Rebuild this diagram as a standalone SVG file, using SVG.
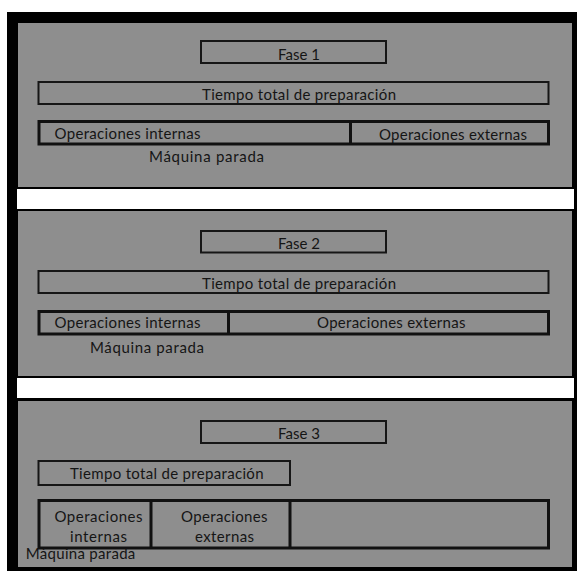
<svg xmlns="http://www.w3.org/2000/svg" width="577" height="571" viewBox="0 0 577 571">
<style>
.panel{fill:#8e8e8e}
.band{fill:#ffffff}
.box{fill:none;stroke:#161616;stroke-width:2}
.row{fill:none;stroke:#111111;stroke-width:3}
text{font-family:"Lato","Open Sans","Liberation Sans",sans-serif;font-size:15px;fill:#151515}
</style>
<rect x="0" y="0" width="577" height="571" fill="#ffffff"/>
<rect x="7" y="12" width="570" height="559" fill="#000000"/>
<rect class="panel" x="18" y="23" width="554" height="164"/>
<rect class="band" x="17" y="189" width="557" height="20"/>
<rect class="panel" x="18" y="211" width="554" height="165"/>
<rect class="band" x="17" y="378" width="557" height="20"/>
<rect class="panel" x="18" y="401" width="554" height="166"/>

<g id="fase1">
<rect class="box" x="201" y="41" width="185" height="22"/>
<text x="278" y="59.5" textLength="42" lengthAdjust="spacing">Fase  1</text>
</g>
<g id="tiempo1">
<rect class="box" x="38.5" y="82" width="510" height="22"/>
<text x="202" y="100" textLength="194" lengthAdjust="spacing">Tiempo total de preparación</text>
</g>
<g id="ops1">
<rect class="row" x="39" y="121.5" width="509.5" height="22.5"/>
<line class="row" x1="350.5" y1="121.5" x2="350.5" y2="144"/>
<text x="54.5" y="138.5" textLength="146" lengthAdjust="spacing">Operaciones  internas</text>
<text x="379" y="140" textLength="148" lengthAdjust="spacing">Operaciones externas</text>
</g>
<g id="maquina1">
<text x="149" y="161.5" textLength="115" lengthAdjust="spacing">Máquina parada</text>
</g>

<g id="fase2">
<rect class="box" x="201" y="231" width="185" height="21.5"/>
<text x="278" y="249" textLength="42" lengthAdjust="spacing">Fase  2</text>
</g>
<g id="tiempo2">
<rect class="box" x="38.5" y="271" width="510" height="22"/>
<text x="202" y="289" textLength="194" lengthAdjust="spacing">Tiempo total de preparación</text>
</g>
<g id="ops2">
<rect class="row" x="39" y="311.5" width="509.5" height="22.5"/>
<line class="row" x1="228.5" y1="311.5" x2="228.5" y2="334"/>
<text x="54.5" y="328" textLength="146" lengthAdjust="spacing">Operaciones  internas</text>
<text x="317" y="328" textLength="148.5" lengthAdjust="spacing">Operaciones externas</text>
</g>
<g id="maquina2">
<text x="90" y="352.5" textLength="114" lengthAdjust="spacing">Máquina parada</text>
</g>

<g id="fase3">
<rect class="box" x="201" y="421" width="185" height="22"/>
<text x="278" y="438.5" textLength="42" lengthAdjust="spacing">Fase  3</text>
</g>
<g id="tiempo3">
<rect class="box" x="38.5" y="461" width="251.5" height="24"/>
<text x="70" y="478.5" textLength="193.5" lengthAdjust="spacing">Tiempo total de preparación</text>
</g>
<g id="ops3">
<rect class="row" x="39" y="500.5" width="509.5" height="47.5"/>
<line class="row" x1="151" y1="500.5" x2="151" y2="548"/>
<line class="row" x1="290" y1="500.5" x2="290" y2="548"/>
<text x="54.5" y="521.7" textLength="88" lengthAdjust="spacing">Operaciones</text>
<text x="70" y="541.7" textLength="57" lengthAdjust="spacing">internas</text>
<text x="181" y="521.7" textLength="86.5" lengthAdjust="spacing">Operaciones</text>
<text x="195" y="541.7" textLength="59" lengthAdjust="spacing">externas</text>
</g>
<g id="maquina3">
<text x="25.8" y="558.5" textLength="109.5" lengthAdjust="spacing">Máquina parada</text>
</g>
</svg>
